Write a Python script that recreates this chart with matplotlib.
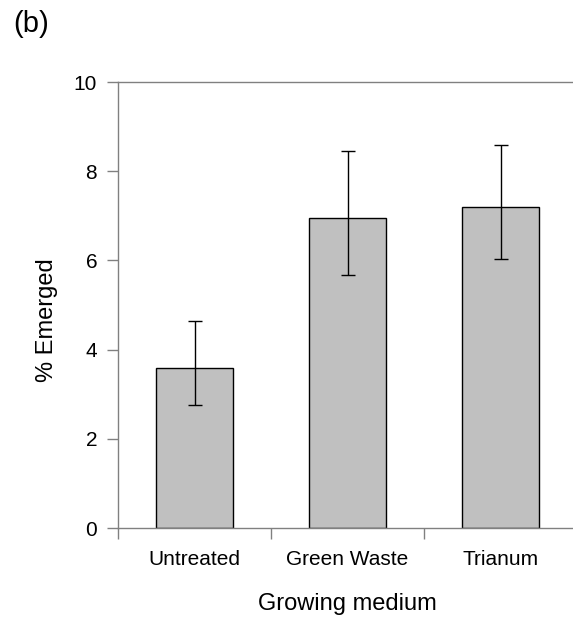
import matplotlib
matplotlib.use("Agg")
import matplotlib.pyplot as plt
import numpy as np

plt.rcParams['font.family'] = ['Liberation Sans', 'DejaVu Sans']

categories = ["Untreated", "Green Waste", "Trianum"]
means = [3.59, 6.94, 7.20]
err_low = [2.76, 5.68, 6.04]
err_high = [4.64, 8.45, 8.58]

fig = plt.figure(figsize=(5.73, 6.19), dpi=100)
# axes run slightly past the right edge, as in the original figure
ax = fig.add_axes([118/573, 91/619, 459/573, 446/619])

x = np.arange(len(categories)) + 0.5
means = np.array(means)
yerr = [means - np.array(err_low), np.array(err_high) - means]

ax.bar(x, means, width=0.5, color="#c0c0c0", edgecolor="black", linewidth=1.0, zorder=2)
ax.errorbar(x, means, yerr=yerr, fmt="none", ecolor="black", elinewidth=1.0,
            capsize=5.0, capthick=1.0, zorder=3)

ax.set_xlim(0, 3)
ax.set_ylim(0, 10)

grey = "#808080"
for side in ["left", "top", "bottom"]:
    ax.spines[side].set_color(grey)
    ax.spines[side].set_linewidth(1.0)
ax.spines["right"].set_visible(False)

ax.set_yticks([0, 2, 4, 6, 8, 10])
ax.tick_params(axis="y", direction="out", length=8, width=1, color=grey,
               pad=7, labelsize=15, labelcolor="black")

ax.set_xticks([0, 1, 2, 3])
ax.set_xticklabels([])
ax.set_xticks(x, minor=True)
ax.set_xticklabels(categories, minor=True)
ax.tick_params(axis="x", which="major", direction="out", length=8, width=1, color=grey)
ax.tick_params(axis="x", which="minor", length=0, pad=16, labelsize=15, labelcolor="black")

ax.set_ylabel("% Emerged", fontsize=17)
ax.yaxis.set_label_coords(-0.155, 0.466)
ax.yaxis.label.set_va("center")
ax.set_xlabel("Growing medium", fontsize=17)
ax.xaxis.set_label_coords(0.5, -0.170)
ax.xaxis.label.set_va("center")

fig.text(13/573, 1 - 24/619, "(b)", fontsize=21, va="center", ha="left")

fig.savefig("out.png", dpi=100)
